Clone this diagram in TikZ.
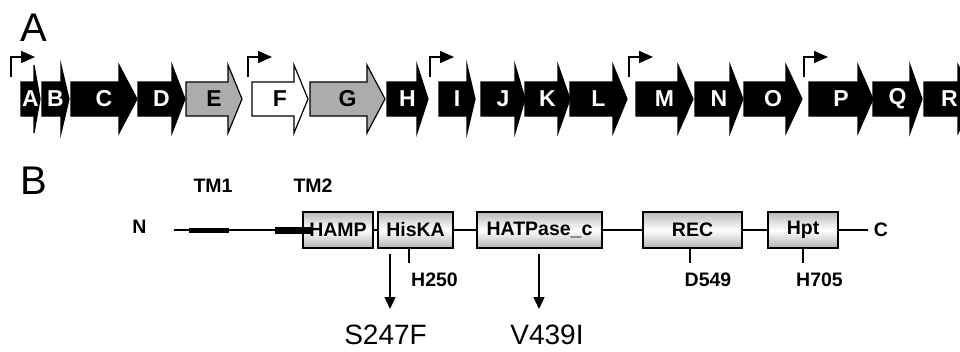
\documentclass[tikz,border=0pt]{standalone}
\usepackage{fontspec}
\setmainfont{Liberation Sans}
\usetikzlibrary{arrows.meta}

\begin{document}
\begin{tikzpicture}[x=1pt, y=-1pt,
        panel/.style={font=\fontsize{40}{40}\selectfont},
        genelbl/.style={font=\fontsize{23}{23}\selectfont\bfseries, inner sep=0pt},
        dombox/.style={draw=black, line width=1.5pt, top color=gray!55, bottom color=gray!60,
            middle color=white, minimum height=36pt, inner sep=0pt,
            font=\fontsize{19.5}{19.5}\selectfont\bfseries},
        smalllbl/.style={font=\fontsize{19.5}{19.5}\selectfont\bfseries},
        mutlbl/.style={font=\fontsize{28}{28}\selectfont, inner sep=0pt},
        promo/.style={line width=1.6pt, -{Triangle[length=14pt,width=12pt]}}]
        \clip (0,0) rectangle (960,351);
        % panel A: gene cluster
        \node[panel] (lblA) at (34,28) {A};
        \foreach \a/\b/\c/\f/\t/\l in {21/34/40/black/white/A, 42/61/69/black/white/B,
            71/119/137/black/white/C, 138/172/185/black/white/D, 186/228/242/gray!65/black/E,
            252/294/308/white/black/F, 310/367/385/gray!65/black/G, 387/417/428/black/white/H,
            439/467/475/black/white/I, 481/515/525/black/white/J, 525/558/570/black/white/K,
            570/613/627/black/white/L, 636/678/693/black/white/M, 695/730/743/black/white/N,
            744/786/802/black/white/O, 809/858/873/black/white/P, 873/910/922/black/white/Q,
            924/958/975/black/white/R}{
            \filldraw[fill=\f, draw=black, line width=1.2pt, line join=miter]
                (\a,82) -- (\b,82) -- (\b,65) -- (\c,99) -- (\b,133) -- (\b,116) -- (\a,116) -- cycle;
            \node[genelbl, text=\t] (g\l) at ({(\a+\c)/2},99) {\l};}
        \foreach \p in {11,248,430,629,804}
            \draw[promo] (\p,77) -- (\p,57) -- ++(24,0);
        % panel B: domain structure
        \node[panel] (lblB) at (34,181) {B};
        \node[smalllbl] (nterm) at (139.5,227) {N};
        \node[smalllbl] (cterm) at (881,230) {C};
        \node[smalllbl] (tm1) at (213,186) {TM1};
        \node[smalllbl] (tm2) at (313,186) {TM2};
        \coordinate (nstart) at (174,230);
        \coordinate (cend) at (868,230);
        \node[dombox, minimum width=70pt] (hamp) at (338,230) {HAMP};
        \node[dombox, minimum width=75pt] (hiska) at (415.5,230) {HisKA};
        \node[dombox, minimum width=125pt] (hatpase) at (539.5,230) {HATPase\_c};
        \node[dombox, minimum width=99pt] (rec) at (692.5,230) {REC};
        \node[dombox, minimum width=70pt] (hpt) at (803,230) {Hpt};
        \draw[line width=1.2pt] (nstart) -- (hamp.west) (hamp.east) -- (hiska.west)
            (hiska.east) -- (hatpase.west) (hatpase.east) -- (rec.west)
            (rec.east) -- (hpt.west) (hpt.east) -- (cend);
        \draw[line width=5pt] (189,230) -- (229,230);
        \draw[line width=7pt] (275,230) -- (313,230);
        % active sites
        \node[smalllbl] (h250) at (434.5,280) {H250};
        \node[smalllbl] (d549) at (708,280) {D549};
        \node[smalllbl] (h705) at (819.5,280) {H705};
        \foreach \s/\d/\x in {h250/hiska/409, d549/rec/690, h705/hpt/803}
            \draw[line width=1.5pt] (\d.south -| \x,0) -- (\x,263);
        % mutations
        \node[mutlbl] (s247f) at (385.5,335) {S247F};
        \node[mutlbl] (v439i) at (547,335) {V439I};
        \draw[line width=1.4pt, -{Triangle[length=12pt,width=11pt]}, shorten <=5pt]
            (hiska.south -| 390,0) -- (390,309);
        \draw[line width=1.4pt, -{Triangle[length=12pt,width=11pt]}, shorten <=5pt]
            (hatpase.south -| 539,0) -- (539,309);
    \end{tikzpicture}
\end{document}
